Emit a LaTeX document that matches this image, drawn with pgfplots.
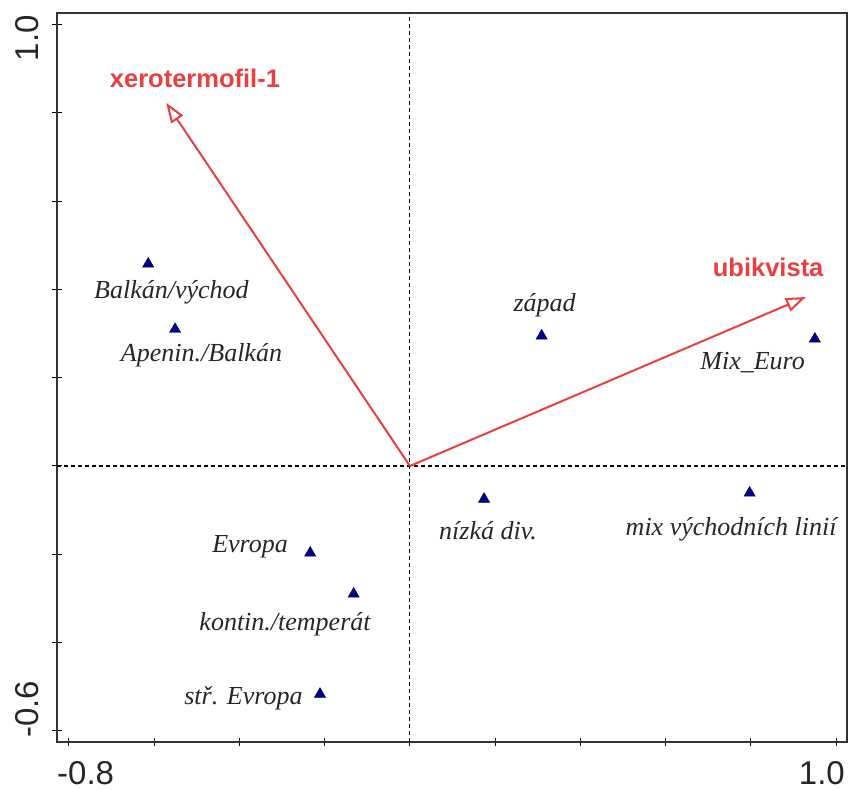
\documentclass[border=0pt]{standalone}
\usepackage{pgfplots}
\pgfplotsset{compat=1.18}
\usepackage{fontspec}
\setmainfont{Liberation Serif}
\newfontfamily\arialfont{Liberation Sans}
\usetikzlibrary{arrows.meta}
\definecolor{arrred}{RGB}{232,64,64}
\definecolor{navytri}{RGB}{0,0,128}
\tikzset{
  lbl/.style={font=\itshape\fontsize{26bp}{30bp}\selectfont, text=black!85, anchor=base, inner sep=0pt},
  rlbl/.style={font=\arialfont\bfseries\fontsize{25.5bp}{30bp}\selectfont, text=arrred, anchor=base, inner sep=0pt},
}
\pgfplotstableread{
x y
-0.614 0.458
-0.551 0.310
0.309 0.295
0.950 0.288
0.174 -0.075
0.797 -0.061
-0.234 -0.197
-0.132 -0.290
-0.211 -0.517
}\samples
\begin{document}
\begin{tikzpicture}
\path[use as bounding box] (-57bp,-48bp) rectangle (791bp,742bp);
\begin{axis}[
  at={(0,0)}, anchor=south west,
  scale only axis, width=790bp, height=729bp,
  xmin=-0.828, xmax=1.0254, ymin=-0.6255, ymax=1.0266,
  xtick={-0.8,-0.6,-0.4,-0.2,0,0.2,0.4,0.6,0.8,1.0},
  ytick={-0.6,-0.4,-0.2,0,0.2,0.4,0.6,0.8,1.0},
  xticklabels={}, yticklabels={},
  tick pos=left, tick align=center, major tick length=9bp,
  axis line style={line width=1.3bp, black!80},
  every tick/.style={line width=1bp, black},
  clip=false,
]
\addplot[black, line width=1.1bp, dash pattern=on 4bp off 3bp] coordinates {(0,-0.6255) (0,1.0266)};
\addplot[black, line width=1.1bp, dash pattern=on 4bp off 3bp] coordinates {(-0.828,0) (1.0254,0)};
\addplot[arrred, line width=2bp, -{Triangle[open,length=20bp,width=14bp,line width=2bp]}] coordinates {(0,0) (-0.572,0.823)};
\addplot[arrred, line width=2bp, -{Triangle[open,length=20bp,width=14bp,line width=2bp]}] coordinates {(0,0) (0.929,0.383)};
\addplot[only marks, mark=triangle*, mark size=6.5bp, color=navytri, mark options={fill=navytri, draw=navytri}] table[x=x,y=y] {\samples};
\node[lbl] at (axis cs:-0.5595,0.3807) {Balkán/východ};
\node[lbl] at (axis cs:-0.489,0.2357) {Apenin./Balkán};
\node[lbl] at (axis cs:-0.375,-0.197) {Evropa};
\node[lbl] at (axis cs:-0.293,-0.3717) {kontin./temperát};
\node[lbl] at (axis cs:-0.3905,-0.5416) {stř. Evropa};
\node[lbl] at (axis cs:0.804,0.2198) {Mix\_Euro};
\node[lbl] at (axis cs:0.1833,-0.1677) {nízká div.};
\node[lbl] at (axis cs:0.316,0.349) {západ};
\node[lbl] at (axis cs:0.7536,-0.1564) {mix východních linií};
\node[rlbl] at (axis cs:-0.5043,0.8567) {xerotermofil-1};
\node[rlbl] at (axis cs:0.8404,0.4283) {ubikvista};
\end{axis}
\begin{scope}[every node/.style={font=\arialfont\fontsize{33bp}{40bp}\selectfont, inner sep=0pt, text=black!85}]
\node[anchor=north west] at (0bp,-19bp) {-0.8};
\node[anchor=north east] at (788bp,-19bp) {1.0};
\node[rotate=90, anchor=base east] at (-19bp,727bp) {1.0};
\node[rotate=90, anchor=base west] at (-19bp,4bp) {-0.6};
\end{scope}
\end{tikzpicture}
\end{document}
